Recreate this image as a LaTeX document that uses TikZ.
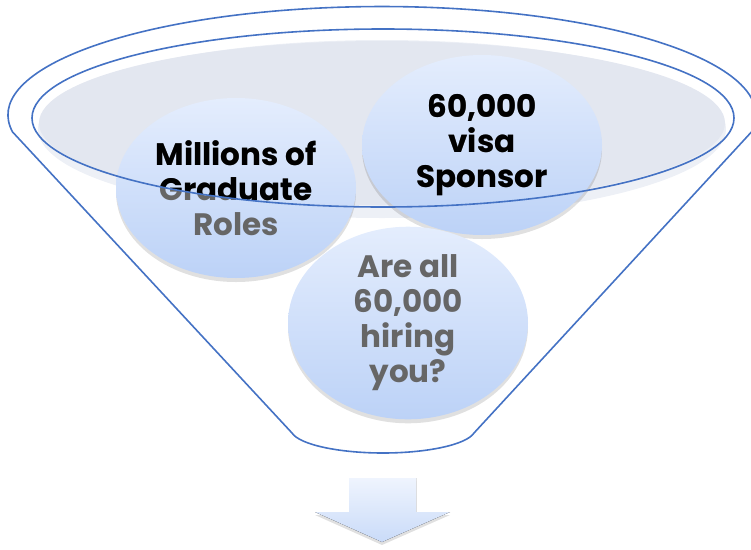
\documentclass[tikz,border=0pt]{standalone}
\usepackage{fontspec}
\usepackage{tikz}
\usetikzlibrary{shapes.geometric,shadows}
\newfontfamily\popfont{Poppins}
\definecolor{funnelblue}{RGB}{68,114,196}
\definecolor{bubbletop}{RGB}{228,237,253}
\definecolor{bubblebot}{RGB}{188,210,247}
\definecolor{rimgray}{RGB}{237,240,246}
\definecolor{bowlgray}{RGB}{227,231,240}
\definecolor{textgray}{RGB}{102,102,102}

\begin{document}
\begin{tikzpicture}[x=1pt,y=-1pt,
	bubble/.style={ellipse,minimum width=240pt,minimum height=180pt,inner sep=0pt,align=center,
		font=\popfont\bfseries\fontsize{31}{35}\selectfont},
	shadebubble/.style={bubble,top color=bubbletop,bottom color=bubblebot,
		drop shadow={shadow xshift=0pt,shadow yshift=-4pt,opacity=.12,fill=black}},
	rim/.style={draw=funnelblue,line width=1.6pt}]
	\useasboundingbox (0,0) rectangle (751,549);

	\fill[rimgray] (382,129) ellipse [x radius=344,y radius=89];
	\fill[bowlgray] (382,123) ellipse [x radius=343,y radius=82];
	\draw[rim] (12.6,132) arc [start angle=171,end angle=369,x radius=374,y radius=108.5]
		-- (474,433) .. controls (466,445) and (426,453) .. (383,453)
		.. controls (340,453) and (300,445) .. (292,433) -- cycle;

	\node[shadebubble,text=textgray] (roles) at (236,188) {Millions of\\Graduate\\Roles};
	\node[shadebubble,text=textgray] (sponsor) at (482,145) {60,000\\visa\\Sponsor};
	\node[shadebubble,text=textgray] (hiring) at (408,323) {Are all\\60,000\\hiring\\you?};

	\begin{scope}
		\clip (383,118) ellipse [x radius=351,y radius=89];
		\node[bubble,text=black] (roles top) at (roles) {Millions of\\Graduate\\Roles};
		\node[bubble,text=black] (sponsor top) at (sponsor) {60,000\\visa\\Sponsor};
	\end{scope}
	\draw[rim] (383,118) ellipse [x radius=351,y radius=89];

	\fill[top color=bubbletop!60!white,bottom color=bubblebot!80!white,
		drop shadow={shadow xshift=0pt,shadow yshift=-3pt,opacity=.12,fill=black}]
		(349,478) -- (416,478) -- (416,512) -- (450,512) -- (382,542) -- (315,512) -- (349,512) -- cycle;
\end{tikzpicture}
\end{document}
